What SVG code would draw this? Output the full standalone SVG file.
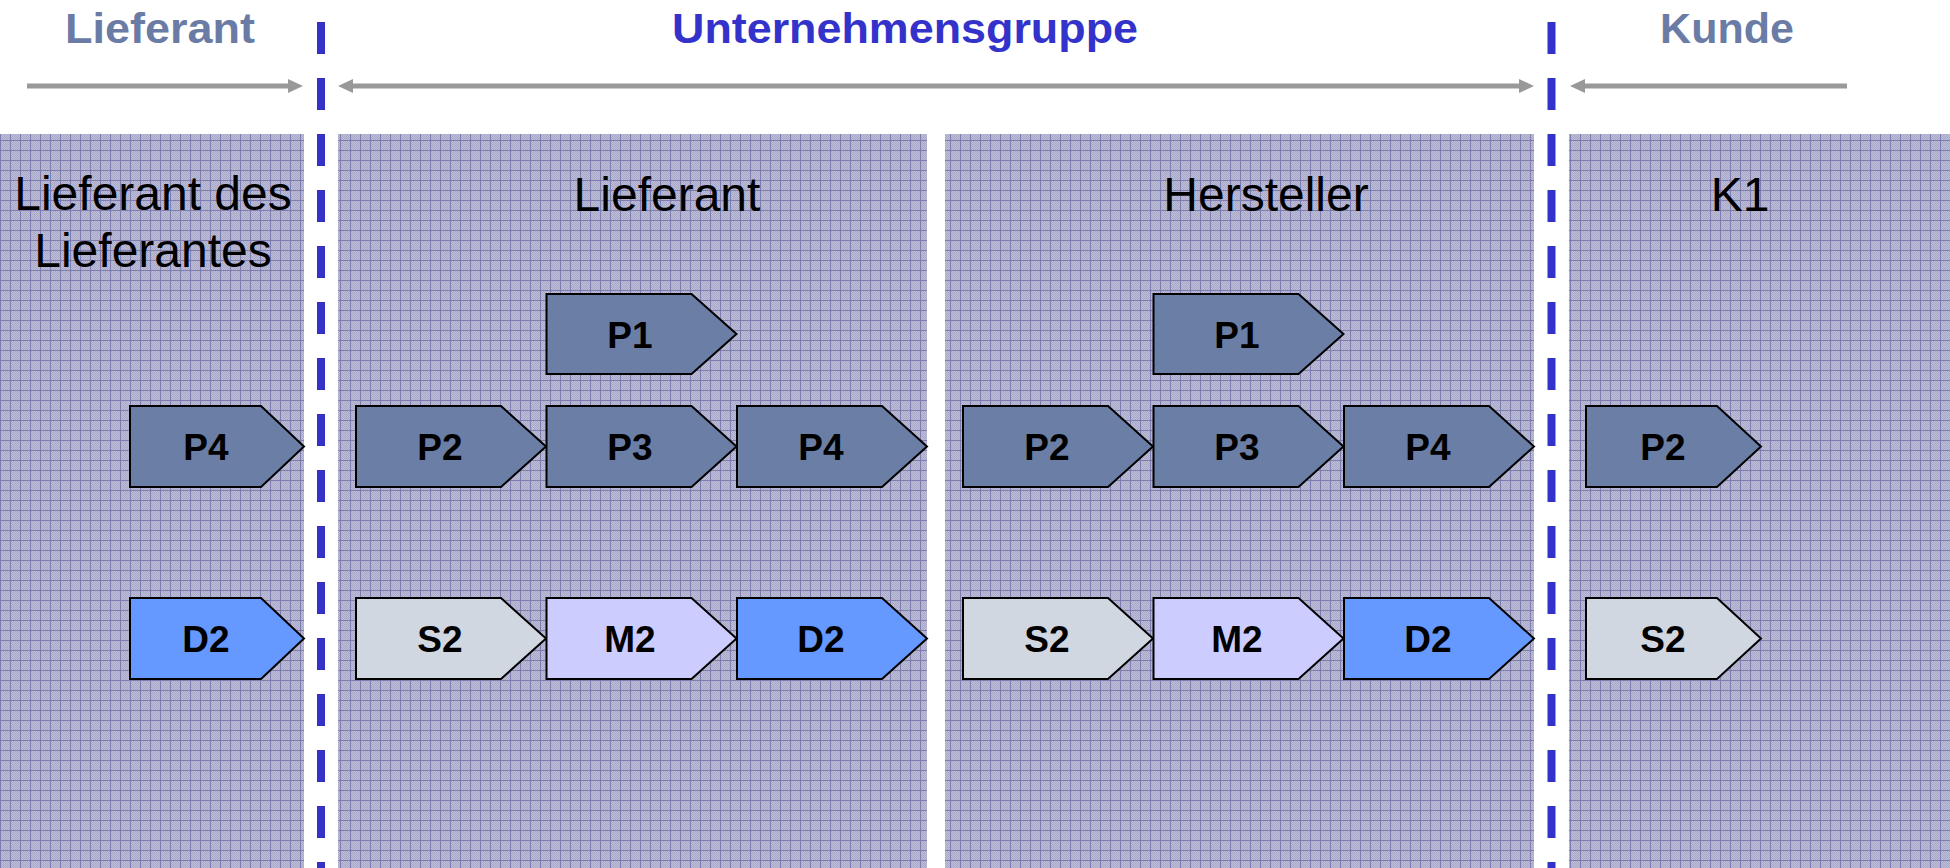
<svg xmlns="http://www.w3.org/2000/svg" width="1950" height="868" viewBox="0 0 1950 868">
  <defs>
    <!-- fine dither inside the grid cells -->
    <pattern id="dither" width="2" height="2" patternUnits="userSpaceOnUse">
      <rect width="2" height="2" fill="#bdbdd6"/>
      <rect width="1" height="1" fill="#a9a9c9"/>
      <rect x="1" y="1" width="1" height="1" fill="#a9a9c9"/>
    </pattern>
    <!-- squared paper background of the lanes -->
    <pattern id="grid" width="10" height="10" patternUnits="userSpaceOnUse">
      <rect width="10" height="10" fill="url(#dither)"/>
      <path d="M0 0.5 H10 M0.5 0 V10" stroke="#7d7db2" stroke-width="1" fill="none"/>
    </pattern>
    <marker id="head" viewBox="0 0 15 14" refX="1" refY="7" markerWidth="15" markerHeight="14" markerUnits="userSpaceOnUse" orient="auto-start-reverse">
      <path d="M0 0 L15 7 L0 14 Z" fill="#999999"/>
    </marker>
  </defs>
  <style>
    .lane { fill: url(#grid); }
    .divider { stroke: #3333cc; stroke-width: 8; stroke-dasharray: 32 24; fill: none; }
    .span { stroke: #999999; stroke-width: 5; fill: none; }
    .hdr { font-family: "Liberation Sans", Arial, sans-serif; font-weight: bold; font-size: 43px; text-anchor: middle; }
    .title { font-family: "Liberation Sans", Arial, sans-serif; font-size: 48px; fill: #000; text-anchor: middle; }
    .step polygon { stroke: #000; stroke-width: 2; stroke-linejoin: miter; }
    .step text { font-family: "Liberation Sans", Arial, sans-serif; font-weight: bold; font-size: 37px; fill: #000; text-anchor: middle; }
    .plan polygon { fill: #6b7ea6; }
    .source polygon { fill: #d1d7e1; }
    .make polygon { fill: #ccccff; }
    .deliver polygon { fill: #6699ff; }
  </style>

  <rect width="1950" height="868" fill="#ffffff"/>

  <!-- lanes -->
  <g id="lanes">
    <rect class="lane" x="0" y="134" width="304" height="734"/>
    <rect class="lane" x="338" y="134" width="589" height="734"/>
    <rect class="lane" x="945" y="134" width="589" height="734"/>
    <rect class="lane" x="1569" y="134" width="381" height="734"/>
  </g>

  <!-- company boundaries -->
  <g id="dividers">
    <line class="divider" x1="321" y1="22" x2="321" y2="868"/>
    <line class="divider" x1="1551.5" y1="22" x2="1551.5" y2="868"/>
  </g>

  <!-- headings -->
  <g id="headings">
    <text class="hdr" x="160" y="43" fill="#6a7ca6" textLength="190" lengthAdjust="spacingAndGlyphs">Lieferant</text>
    <text class="hdr" x="905" y="43" fill="#3333cc" textLength="466" lengthAdjust="spacingAndGlyphs">Unternehmensgruppe</text>
    <text class="hdr" x="1727" y="43" fill="#6a7ca6">Kunde</text>
  </g>

  <g id="connectors">
    <path class="span" d="M27 86 H289" marker-end="url(#head)"/>
    <path class="span" d="M352 86 H1520" marker-start="url(#head)" marker-end="url(#head)"/>
    <path class="span" d="M1847 86 H1584" marker-end="url(#head)"/>
  </g>

  <!-- lane titles -->
  <g id="lane-titles">
    <text class="title" x="153" y="210">Lieferant des</text>
    <text class="title" x="153" y="267">Lieferantes</text>
    <text class="title" x="667" y="211">Lieferant</text>
    <text class="title" x="1266" y="211">Hersteller</text>
    <text class="title" x="1740" y="211">K1</text>
  </g>

  <!-- Lieferant des Lieferantes -->
  <g id="ll-p4" class="step plan">
    <polygon points="130,406 261,406 304,446.5 261,487 130,487"/>
    <text x="206" y="460">P4</text>
  </g>
  <g id="ll-d2" class="step deliver">
    <polygon points="130,598 261,598 304,638.5 261,679 130,679"/>
    <text x="206" y="652">D2</text>
  </g>

  <!-- Lieferant -->
  <g id="l-p1" class="step plan">
    <polygon points="546.5,294 691.5,294 736.5,334 691.5,374 546.5,374"/>
    <text x="630" y="348">P1</text>
  </g>
  <g id="l-p2" class="step plan">
    <polygon points="356,406 501,406 546,446.5 501,487 356,487"/>
    <text x="440" y="460">P2</text>
  </g>
  <g id="l-p3" class="step plan">
    <polygon points="546.5,406 691.5,406 736.5,446.5 691.5,487 546.5,487"/>
    <text x="630" y="460">P3</text>
  </g>
  <g id="l-p4" class="step plan">
    <polygon points="737,406 882,406 927,446.5 882,487 737,487"/>
    <text x="821" y="460">P4</text>
  </g>
  <g id="l-s2" class="step source">
    <polygon points="356,598 501,598 546,638.5 501,679 356,679"/>
    <text x="440" y="652">S2</text>
  </g>
  <g id="l-m2" class="step make">
    <polygon points="546.5,598 691.5,598 736.5,638.5 691.5,679 546.5,679"/>
    <text x="630" y="652">M2</text>
  </g>
  <g id="l-d2" class="step deliver">
    <polygon points="737,598 882,598 927,638.5 882,679 737,679"/>
    <text x="821" y="652">D2</text>
  </g>

  <!-- Hersteller -->
  <g id="h-p1" class="step plan">
    <polygon points="1153.5,294 1298.5,294 1343.5,334 1298.5,374 1153.5,374"/>
    <text x="1237" y="348">P1</text>
  </g>
  <g id="h-p2" class="step plan">
    <polygon points="963,406 1108,406 1153,446.5 1108,487 963,487"/>
    <text x="1047" y="460">P2</text>
  </g>
  <g id="h-p3" class="step plan">
    <polygon points="1153.5,406 1298.5,406 1343.5,446.5 1298.5,487 1153.5,487"/>
    <text x="1237" y="460">P3</text>
  </g>
  <g id="h-p4" class="step plan">
    <polygon points="1344,406 1489,406 1534,446.5 1489,487 1344,487"/>
    <text x="1428" y="460">P4</text>
  </g>
  <g id="h-s2" class="step source">
    <polygon points="963,598 1108,598 1153,638.5 1108,679 963,679"/>
    <text x="1047" y="652">S2</text>
  </g>
  <g id="h-m2" class="step make">
    <polygon points="1153.5,598 1298.5,598 1343.5,638.5 1298.5,679 1153.5,679"/>
    <text x="1237" y="652">M2</text>
  </g>
  <g id="h-d2" class="step deliver">
    <polygon points="1344,598 1489,598 1534,638.5 1489,679 1344,679"/>
    <text x="1428" y="652">D2</text>
  </g>

  <!-- K1 -->
  <g id="k-p2" class="step plan">
    <polygon points="1586,406 1717,406 1761,446.5 1717,487 1586,487"/>
    <text x="1663" y="460">P2</text>
  </g>
  <g id="k-s2" class="step source">
    <polygon points="1586,598 1717,598 1761,638.5 1717,679 1586,679"/>
    <text x="1663" y="652">S2</text>
  </g>
</svg>
